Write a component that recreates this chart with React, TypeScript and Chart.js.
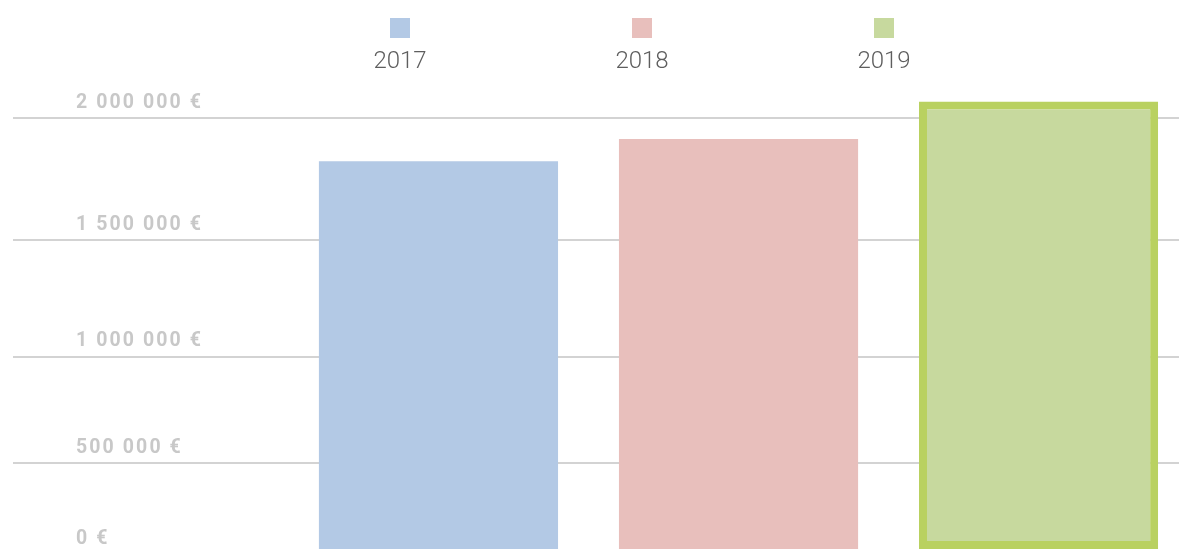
import React, { useEffect, useRef } from 'react';
import { Chart, registerables, LinearScale } from 'chart.js';

// ---- data ----
const YEARS = ['2017', '2018', '2019'];
const REVENUE = [1825000, 1915000, 2064000];
const FILL_COLORS = ['#b3c9e5', '#e8bfbc', '#c7d99e'];
const BORDER_COLORS = ['#b3c9e5', '#e8bfbc', '#b9d160'];
const BORDER_WIDTHS = [0, 0, 8];
const Y_TICKS = [0, 500000, 1000000, 1500000, 2000000];
const Y_MAX = 2100000;
const Y_EXPONENT = 1.16;
// visible window of the (cropped) year axis
const X_MIN = 2015.582;
const X_MAX = 2019.468;

function formatEuro(v: number): string {
  const s = Math.round(v).toString().replace(/\B(?=(\d{3})+(?!\d))/g, ' ');
  return s + ' €';
}

// power-scaled linear axis (the reference's y axis is not evenly spaced)
class PowerScale extends LinearScale {
  static id = 'power';
  getPixelForValue(value: any) {
    if (value === null || value === undefined || isNaN(value)) return NaN;
    const range = this.max - this.min;
    const t = range === 0 ? 0 : Math.max(0, (value - this.min) / range);
    return this.getPixelForDecimal(Math.pow(t, Y_EXPONENT));
  }
  getValueForPixel(pixel: number) {
    const d = Math.max(0, this.getDecimalForPixel(pixel));
    return this.min + Math.pow(d, 1 / Y_EXPONENT) * (this.max - this.min);
  }
}

Chart.register(...registerables, PowerScale as any);

const tickSpacing = {
  id: 'tickSpacing',
  beforeDraw(chart: any) {
    (chart.ctx as any).letterSpacing = '2.1px';
  },
  beforeDatasetsDraw(chart: any) {
    (chart.ctx as any).letterSpacing = '0px';
  },
};

const topLegend = {
  id: 'topLegend',
  afterDraw(chart: any) {
    const ctx = chart.ctx as CanvasRenderingContext2D;
    const labels: string[] = chart.data.labels;
    const colors: string[] = chart.data.datasets[0].backgroundColor;
    const n = labels.length;
    const center = 642;
    const spacing = 242;
    labels.forEach((label, i) => {
      const cx = center + (i - (n - 1) / 2) * spacing;
      ctx.save();
      (ctx as any).letterSpacing = '0px';
      ctx.fillStyle = colors[i];
      ctx.fillRect(cx - 10, 18, 20, 20);
      ctx.font = '300 24px Roboto';
      ctx.fillStyle = '#5e5e5e';
      ctx.textAlign = 'center';
      ctx.textBaseline = 'alphabetic';
      ctx.fillText(label, cx, 68);
      ctx.restore();
    });
  },
};

export default function App() {
  const ref = useRef<HTMLCanvasElement | null>(null);

  useEffect(() => {
    if (!ref.current) return;
    const chart = new Chart(ref.current, {
      type: 'bar',
      data: {
        labels: YEARS,
        datasets: [
          {
            label: 'Chiffre d’affaires',
            data: REVENUE,
            backgroundColor: FILL_COLORS,
            borderColor: BORDER_COLORS,
            borderWidth: BORDER_WIDTHS,
            borderSkipped: false,
            categoryPercentage: 1,
            barPercentage: 0.797,
          } as any,
        ],
      },
      options: {
        animation: false,
        responsive: true,
        maintainAspectRatio: false,
        layout: { padding: { top: 92.5, right: 0, left: 0, bottom: 0 } },
        plugins: {
          legend: { display: false },
          tooltip: { enabled: false },
        },
        scales: {
          x: {
            type: 'linear',
            display: false,
            offset: false,
            min: X_MIN,
            max: X_MAX,
            afterBuildTicks: (s: any) => {
              s.ticks = YEARS.map((y) => ({ value: Number(y) }));
            },
          } as any,
          y: {
            type: 'power' as any,
            min: 0,
            max: Y_MAX,
            bounds: 'data',
            afterBuildTicks: (s: any) => {
              s.ticks = Y_TICKS.map((v) => ({ value: v }));
            },
            afterFit: (s: any) => {
              s.width = 13;
              s.paddingTop = 0;
              s.paddingBottom = 0;
            },
            border: { display: false },
            grid: {
              color: (c: any) => (c.tick && c.tick.value === 0 ? 'rgba(0,0,0,0)' : '#d3d3d3'),
              lineWidth: 2,
              drawTicks: false,
            },
            ticks: {
              mirror: true,
              padding: 63,
              labelOffset: -15,
              color: '#c8c8c8',
              font: (c: any) => ({
                family: 'Roboto',
                weight: 'bold',
                size: 19.5,
                lineHeight: c.tick && c.tick.value === 0 ? '8px' : 1.2,
              }),
              callback: (v: any) => (Number(v) === 0 ? ['', formatEuro(0)] : formatEuro(Number(v))),
            },
          } as any,
        },
      },
      plugins: [tickSpacing, topLegend],
    });
    return () => chart.destroy();
  }, []);

  return (
    <div style={{ position: 'absolute', left: 0, top: 0, width: 1179, height: 550 }}>
      <canvas ref={ref} />
    </div>
  );
}
